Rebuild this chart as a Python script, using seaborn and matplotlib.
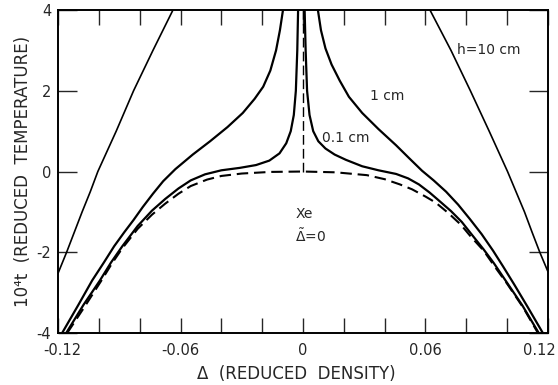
import numpy as np
import matplotlib
matplotlib.use("Agg")
import matplotlib.pyplot as plt
import matplotlib.transforms as mtransforms
import seaborn as sns

# Coexistence curve (dashed) for Xe: reduced density vs reduced temperature
coex_delta = [-0.1155, -0.107, -0.099, -0.0935, -0.0885, -0.081, -0.074, -0.0676, -0.061,
              -0.055, -0.047, -0.040, -0.030, -0.016, 0.0, 0.016, 0.0313, 0.040, 0.0475,
              0.0534, 0.060, 0.065, 0.071, 0.0774, 0.082, 0.0885, 0.094, 0.100, 0.108, 0.1151]
coex_t = [-4.0, -3.35, -2.72, -2.27, -1.9, -1.42, -1.07, -0.8, -0.55,
          -0.36, -0.2, -0.11, -0.05, -0.01, 0.0, -0.02, -0.09, -0.19, -0.32,
          -0.44, -0.62, -0.77, -1.02, -1.32, -1.6, -1.96, -2.36, -2.78, -3.38, -4.0]

# Critical isochore above T_c (dashed)
iso_delta = [0.0, 0.0]
iso_t = [0.0, 4.0]

# h = 0.1 cm
h01_left_delta = [-0.116, -0.1075, -0.0995, -0.094, -0.0885, -0.081, -0.074, -0.0675, -0.061,
                  -0.055, -0.048, -0.040, -0.031, -0.023, -0.0165, -0.0115, -0.0082, -0.006,
                  -0.0045, -0.0035, -0.0028, -0.0024]
h01_left_t = [-4.0, -3.3, -2.7, -2.25, -1.85, -1.35, -0.97, -0.68, -0.42,
              -0.22, -0.07, 0.03, 0.09, 0.16, 0.27, 0.45, 0.7, 1.0,
              1.4, 2.0, 3.0, 4.0]
h01_right_delta = [0.0008, 0.0013, 0.002, 0.0032, 0.005, 0.0075, 0.011, 0.0155, 0.021, 0.029,
                   0.037, 0.0456, 0.0515, 0.0568, 0.062, 0.0666, 0.0725, 0.0778, 0.0825,
                   0.0885, 0.0935, 0.0995, 0.1075, 0.1155]
h01_right_t = [4.0, 3.0, 2.0, 1.4, 1.0, 0.75, 0.57, 0.42, 0.29, 0.13,
               0.03, -0.06, -0.17, -0.32, -0.52, -0.72, -0.98, -1.25, -1.55,
               -1.93, -2.27, -2.72, -3.32, -4.0]

# h = 1 cm
h1_left_delta = [-0.118, -0.110, -0.1033, -0.0975, -0.0925, -0.0875, -0.083, -0.0785,
                 -0.0735, -0.0685, -0.0625, -0.054, -0.0455, -0.037, -0.0295, -0.0237, -0.0195,
                 -0.016, -0.0132, -0.0113, -0.0098]
h1_left_t = [-4.0, -3.3, -2.7, -2.25, -1.85, -1.5, -1.2, -0.88,
             -0.55, -0.24, 0.06, 0.42, 0.75, 1.1, 1.45, 1.8, 2.1,
             2.5, 3.0, 3.5, 4.0]
h1_right_delta = [0.0073, 0.0088, 0.011, 0.014, 0.018, 0.0225, 0.029, 0.037, 0.0456, 0.052,
                  0.0583, 0.064, 0.0701, 0.076, 0.0818, 0.0875, 0.0931, 0.098, 0.1035, 0.110,
                  0.1175]
h1_right_t = [4.0, 3.5, 3.05, 2.65, 2.25, 1.85, 1.45, 1.05, 0.65, 0.33,
              0.02, -0.22, -0.5, -0.82, -1.18, -1.55, -1.96, -2.35, -2.8, -3.35,
              -4.0]

# h = 10 cm
h10_left_delta = [-0.120, -0.1158, -0.112, -0.1082, -0.1042, -0.1005, -0.0915, -0.083,
                  -0.0735, -0.0637]
h10_left_t = [-2.52, -2.0, -1.5, -1.0, -0.5, 0.0, 1.0, 2.0, 3.0, 4.0]
h10_right_delta = [0.0622, 0.0725, 0.082, 0.0912, 0.1002, 0.1085, 0.1122, 0.116, 0.120]
h10_right_t = [4.0, 3.0, 2.0, 1.0, 0.0, -1.0, -1.5, -2.0, -2.48]

x_ticks = [-0.12, -0.10, -0.08, -0.06, -0.04, -0.02, 0.0, 0.02, 0.04, 0.06, 0.08, 0.10, 0.12]
x_ticklabels = ["-0.12", "", "", "-0.06", "", "", "0", "", "", "0.06", "", "", "0.12"]
y_ticks = [-4, -2, 0, 2, 4]
y_ticklabels = ["-4", "-2", "0", "2", "4"]

sns.set_style("ticks")
plt.rcParams["font.family"] = ["DejaVu Sans"]
plt.rcParams["axes.unicode_minus"] = False

fig = plt.figure(figsize=(5.58, 3.85), dpi=100)
ax = fig.add_axes([0.104, 0.135, 0.878, 0.839])

common = dict(color="black", sort=False, estimator=None, legend=False)

# dashed reference curves
sns.lineplot(x=coex_delta, y=coex_t, ax=ax, lw=1.5, **common)
ax.lines[-1].set_linestyle((0, (5.5, 2.8)))
sns.lineplot(x=iso_delta, y=iso_t, ax=ax, lw=1.0, **common)
ax.lines[-1].set_linestyle((0, (7, 3)))

# solid curves for the three column heights
for xs, ys, w in [(h01_left_delta, h01_left_t, 1.6), (h01_right_delta, h01_right_t, 1.6),
                  (h1_left_delta, h1_left_t, 1.6), (h1_right_delta, h1_right_t, 1.6),
                  (h10_left_delta, h10_left_t, 1.2), (h10_right_delta, h10_right_t, 1.2)]:
    sns.lineplot(x=xs, y=ys, ax=ax, lw=w, **common)
    ax.lines[-1].set_solid_joinstyle("round")

ax.set_xlim(-0.12, 0.12)
ax.set_ylim(-4, 4)
ax.set_xticks(x_ticks)
ax.set_xticklabels(x_ticklabels)
ax.set_yticks(y_ticks)
ax.set_yticklabels(y_ticklabels)
ax.tick_params(axis="x", direction="in", length=11, width=1.0, top=True, bottom=True,
               labelsize=10.5, pad=7)
ax.tick_params(axis="y", direction="in", length=14, width=1.0, left=True, right=True,
               labelsize=10.5, pad=5)
for s in ax.spines.values():
    s.set_visible(True)
    s.set_linewidth(1.4)
    s.set_color("black")

# keep the end labels of the density axis inside the figure
xl = ax.get_xticklabels()
xl[0].set_transform(xl[0].get_transform() +
                    mtransforms.ScaledTranslation(4 / 100, 0, fig.dpi_scale_trans))
xl[-1].set_horizontalalignment("right")
xl[-1].set_transform(xl[-1].get_transform() +
                     mtransforms.ScaledTranslation(8 / 100, 0, fig.dpi_scale_trans))

ax.set_xlabel("Δ  (REDUCED  DENSITY)", fontsize=12, labelpad=6)
ax.xaxis.set_label_coords(0.486, -0.1)
ax.set_ylabel("10⁴t  (REDUCED  TEMPERATURE)", fontsize=12, labelpad=3)

ax.text(0.0755, 3.0, "h=10 cm", fontsize=10, ha="left", va="center")
ax.text(0.033, 1.87, "1 cm", fontsize=10, ha="left", va="center")
ax.text(0.0095, 0.83, "0.1 cm", fontsize=10, ha="left", va="center")
ax.text(-0.0035, -1.04, "Xe", fontsize=10, ha="left", va="center")
ax.text(-0.004, -1.6, r"$\tilde{\Delta}$=0", fontsize=10, ha="left", va="center")

fig.savefig("out.png", dpi=100)
